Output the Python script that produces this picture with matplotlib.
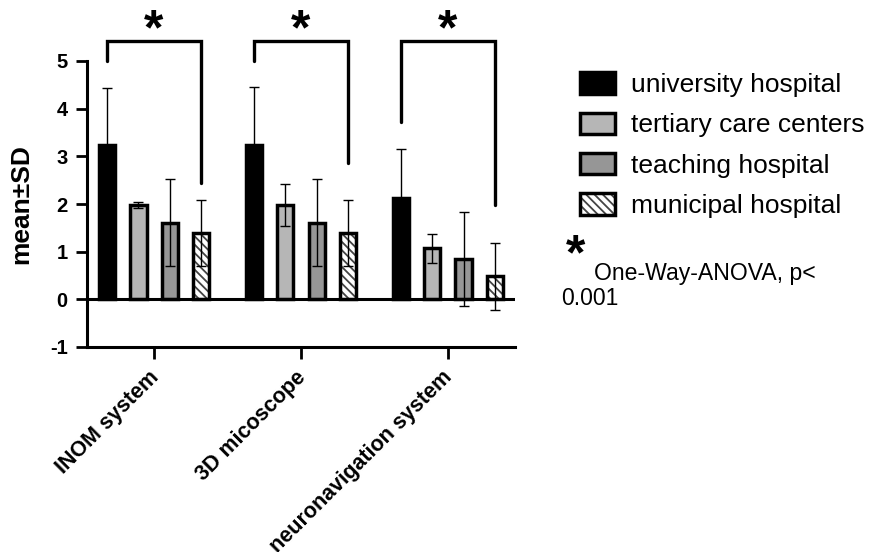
import matplotlib
matplotlib.use("Agg")
import matplotlib.pyplot as plt
import numpy as np
from matplotlib.patches import Patch
from matplotlib.legend_handler import HandlerTuple
from matplotlib.transforms import ScaledTranslation

plt.rcParams['font.family'] = ['Liberation Sans', 'DejaVu Sans']
plt.rcParams['hatch.linewidth'] = 1.3

categories = ['INOM system', '3D micoscope', 'neuronavigation system']
series_names = ['university hospital', 'tertiary care centers',
                'teaching hospital', 'municipal hospital']
university = [3.23, 3.23, 2.13]
tertiary = [1.98, 1.98, 1.07]
teaching = [1.61, 1.61, 0.85]
municipal = [1.39, 1.39, 0.48]
university_sd = [1.20, 1.22, 1.02]
tertiary_sd = [0.06, 0.45, 0.31]
teaching_sd = [0.92, 0.92, 0.99]
municipal_sd = [0.70, 0.70, 0.70]
bracket_left_end = [4.99, 5.00, 3.71]
bracket_right_end = [2.45, 2.86, 1.97]
bracket_top = 5.43
star_y = 5.36
yticks = [-1, 0, 1, 2, 3, 4, 5]

W, H = 882, 552
fig = plt.figure(figsize=(W / 100, H / 100), dpi=100)
ax = fig.add_axes([87 / W, 1 - 347 / H, (515 - 87) / W, (347 - 61) / H])

means = [university, tertiary, teaching, municipal]
sds = [university_sd, tertiary_sd, teaching_sd, municipal_sd]
faces = ['#000000', '#b6b6b6', '#969696', 'white']
hatch = '\\\\\\\\'
hatch_col = '#444444'
x = np.arange(len(categories))
step = 0.2143
width = 0.112
elw = 2.5
offsets = [-1.5, -0.5, 0.5, 1.5]

for i in range(4):
    xpos = x + offsets[i] * step
    if i == 3:
        ax.bar(xpos, means[i], width, color='white', edgecolor=hatch_col,
               hatch=hatch, linewidth=0, zorder=2)
        ax.bar(xpos, means[i], width, fill=False, edgecolor='black',
               linewidth=elw, zorder=3)
    else:
        ax.bar(xpos, means[i], width, color=faces[i], edgecolor='black',
               linewidth=elw, zorder=2)
    ax.errorbar(xpos, means[i], yerr=sds[i], fmt='none', ecolor='black',
                elinewidth=1.0, capsize=3.8, capthick=1.0, zorder=4)

ax.axhline(0, color='black', lw=2.2, zorder=5)

# significance brackets
for g in range(len(categories)):
    xl = x[g] + offsets[0] * step
    xr = x[g] + offsets[3] * step
    ax.plot([xl, xl, xr, xr],
            [bracket_left_end[g], bracket_top, bracket_top, bracket_right_end[g]],
            color='black', lw=2.4, clip_on=False, solid_capstyle='round',
            solid_joinstyle='miter', zorder=6)
    ax.text(x[g], star_y, '*', ha='center', va='baseline',
            fontsize=36, fontweight='bold', clip_on=False)

ax.set_xlim(-0.456, 2.456)
ax.set_ylim(-1, 5)
ax.set_yticks(yticks)
ax.set_yticklabels([str(t) for t in yticks], fontsize=14.5, fontweight='bold')
ax.set_xticks(x)
ax.set_ylabel('mean±SD', fontsize=19, fontweight='bold')
ax.yaxis.set_label_coords(-0.126, 0.5)

for s in ['top', 'right']:
    ax.spines[s].set_visible(False)
for s in ['left', 'bottom']:
    ax.spines[s].set_linewidth(2.2)
ax.tick_params(axis='y', length=7.8, width=2, pad=6)
ax.tick_params(axis='x', length=8.5, width=2, pad=6)

ax.set_xticklabels(categories, rotation=45, ha='right', va='top',
                   rotation_mode='anchor', fontsize=15.5, fontweight='bold')
shift = ScaledTranslation(-6 / 100, 0, fig.dpi_scale_trans)
for lab in ax.get_xticklabels():
    lab.set_transform(lab.get_transform() + shift)

# legend
handles = [
    Patch(facecolor=faces[0], edgecolor='black', linewidth=elw),
    Patch(facecolor=faces[1], edgecolor='black', linewidth=elw),
    Patch(facecolor=faces[2], edgecolor='black', linewidth=elw),
    (Patch(facecolor='white', edgecolor=hatch_col, hatch=hatch, linewidth=0),
     Patch(fill=False, edgecolor='black', linewidth=elw)),
]
fig.legend(handles, series_names, loc='upper left',
           bbox_to_anchor=(567 / W, 1 - 59 / H), frameon=False,
           fontsize=19, handlelength=1.33, handleheight=0.87,
           handletextpad=0.6, labelspacing=0.59, borderpad=0,
           handler_map={tuple: HandlerTuple(ndivide=1)})

fig.text(566 / W, 1 - 269 / H, '*', fontsize=36, fontweight='bold',
         ha='left', va='baseline')
fig.text(594 / W, 1 - 280 / H, 'One-Way-ANOVA, p<', fontsize=16.6,
         ha='left', va='baseline')
fig.text(561 / W, 1 - 305 / H, '0.001', fontsize=16.6,
         ha='left', va='baseline')

fig.savefig('out.png', dpi=100, facecolor='white')
